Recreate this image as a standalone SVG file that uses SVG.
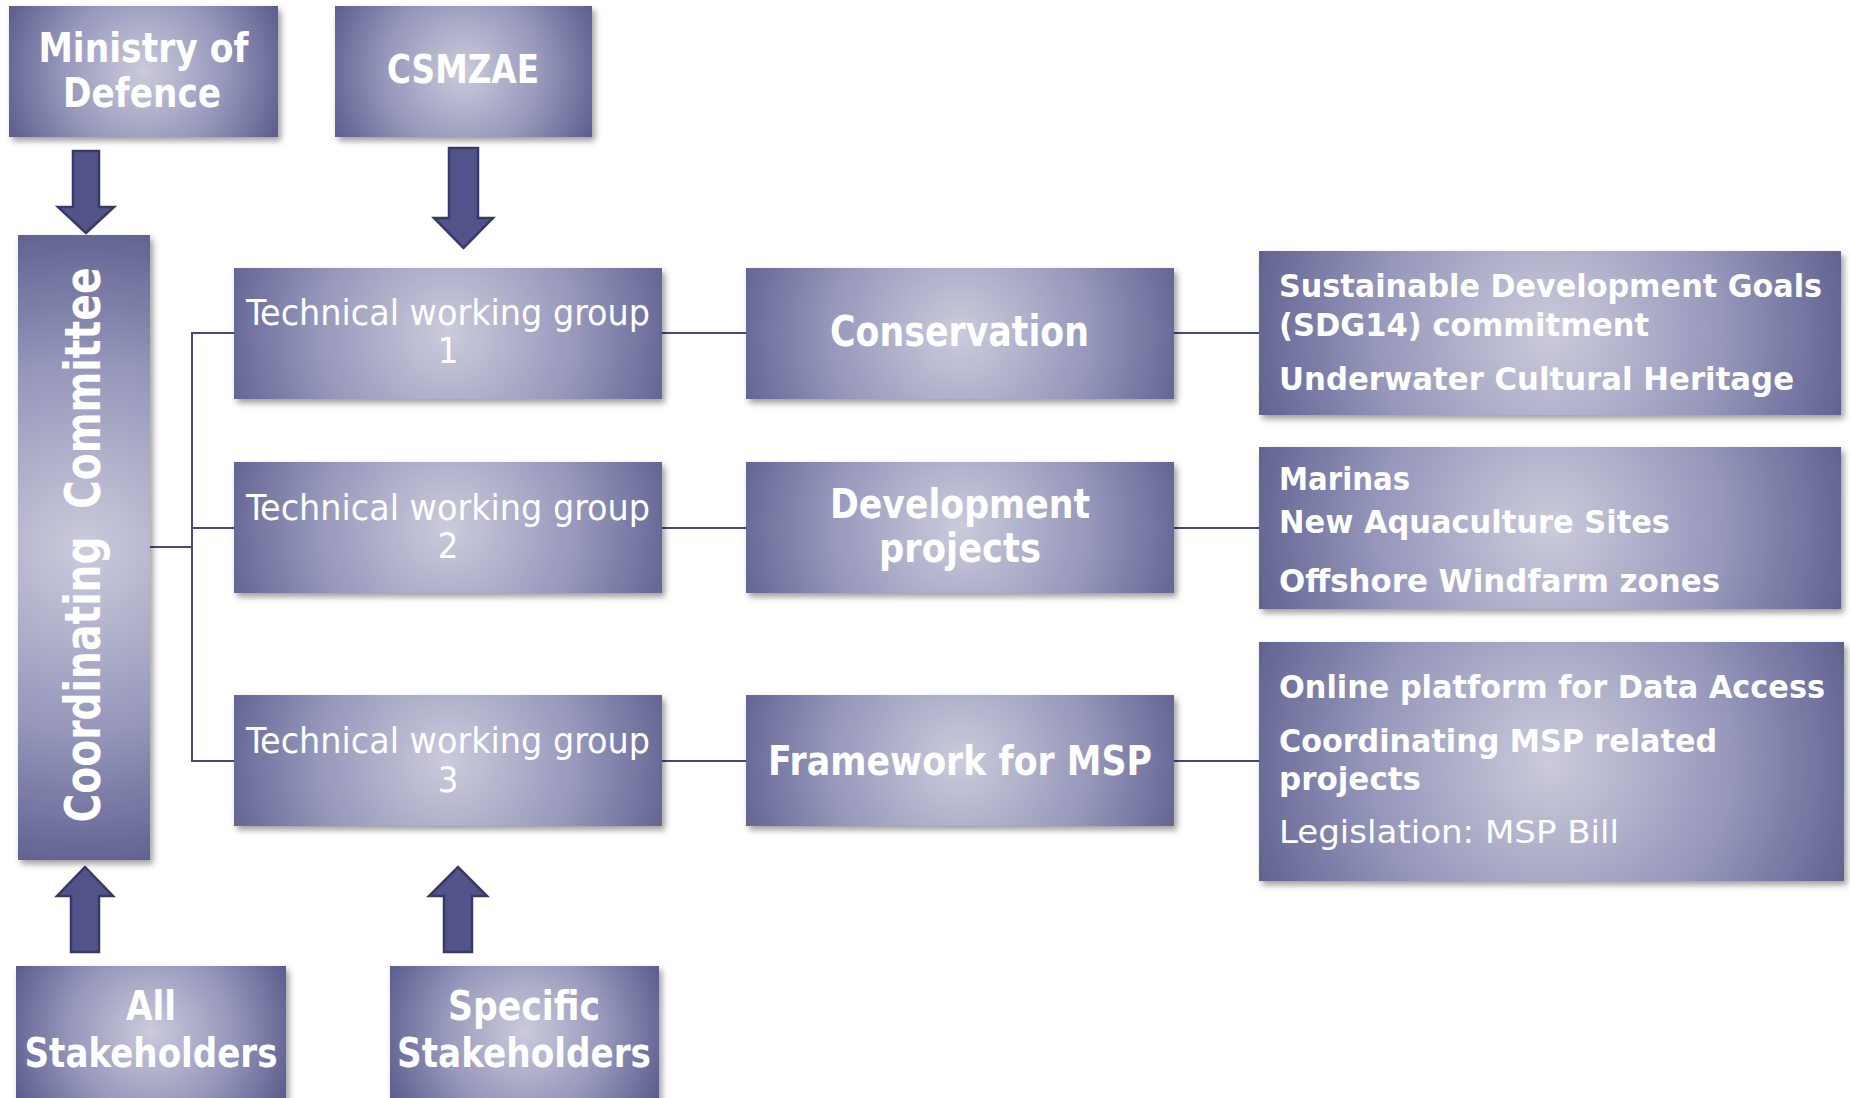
<svg xmlns="http://www.w3.org/2000/svg" xmlns:xlink="http://www.w3.org/1999/xlink" width="1850" height="1098" viewBox="0 0 1850 1098">
<style>
  .box { filter: url(#shadow); }
  .t { fill: #ffffff; font-family: 'DejaVu Sans', 'Liberation Sans', sans-serif; font-weight: bold; }
  .tn { fill: #ffffff; font-family: 'DejaVu Sans Condensed', 'DejaVu Sans', sans-serif; font-weight: normal; }
  .c { text-anchor: middle; }
  .line { stroke: #48497c; stroke-width: 2; fill: none; }
  .arrow { fill: #525388; stroke: #393a63; stroke-width: 2.5; stroke-linejoin: miter; }
</style>
<defs>
  <filter id="shadow" x="-10%" y="-10%" width="125%" height="130%">
    <feDropShadow dx="3" dy="4" stdDeviation="3" flood-color="#000000" flood-opacity="0.38"/>
  </filter>
  <radialGradient id="g">
    <stop offset="0" stop-color="#cbcbdc"/>
    <stop offset="0.5" stop-color="#9596ba"/>
    <stop offset="1" stop-color="#4e4f83"/>
  </radialGradient>
  <radialGradient id="g-min" xlink:href="#g" gradientUnits="userSpaceOnUse" cx="143.5" cy="71.5" r="165"/>
  <radialGradient id="g-csm" xlink:href="#g" gradientUnits="userSpaceOnUse" cx="463.5" cy="71.5" r="160"/>
  <radialGradient id="g-coord" xlink:href="#g" gradientUnits="userSpaceOnUse" cx="84" cy="547.5" r="370"/>
  <radialGradient id="g-twg1" xlink:href="#g" gradientUnits="userSpaceOnUse" cx="448" cy="333.5" r="265"/>
  <radialGradient id="g-twg2" xlink:href="#g" gradientUnits="userSpaceOnUse" cx="448" cy="527.5" r="265"/>
  <radialGradient id="g-twg3" xlink:href="#g" gradientUnits="userSpaceOnUse" cx="448" cy="760.5" r="265"/>
  <radialGradient id="g-cons" xlink:href="#g" gradientUnits="userSpaceOnUse" cx="960" cy="333.5" r="265"/>
  <radialGradient id="g-dev" xlink:href="#g" gradientUnits="userSpaceOnUse" cx="960" cy="527.5" r="265"/>
  <radialGradient id="g-frm" xlink:href="#g" gradientUnits="userSpaceOnUse" cx="960" cy="760.5" r="265"/>
  <radialGradient id="g-r1" xlink:href="#g" gradientUnits="userSpaceOnUse" cx="1550" cy="333" r="350"/>
  <radialGradient id="g-r2" xlink:href="#g" gradientUnits="userSpaceOnUse" cx="1550" cy="528" r="350"/>
  <radialGradient id="g-r3" xlink:href="#g" gradientUnits="userSpaceOnUse" cx="1551" cy="761" r="365"/>
  <radialGradient id="g-all" xlink:href="#g" gradientUnits="userSpaceOnUse" cx="151" cy="1032" r="165"/>
  <radialGradient id="g-spec" xlink:href="#g" gradientUnits="userSpaceOnUse" cx="524.5" cy="1032" r="165"/>
</defs>
<rect x="0" y="0" width="1850" height="1098" fill="#ffffff"/>

<g id="connectors">
  <polyline class="line" points="150,547 192,547"/>
  <polyline class="line" points="234,333 192,333 192,761 234,761"/>
  <polyline class="line" points="192,528 234,528"/>
  <polyline class="line" points="662,333 746,333"/>
  <polyline class="line" points="662,528 746,528"/>
  <polyline class="line" points="662,761 746,761"/>
  <polyline class="line" points="1174,333 1259,333"/>
  <polyline class="line" points="1174,528 1259,528"/>
  <polyline class="line" points="1174,761 1259,761"/>
  <polygon class="arrow" points="73,151 99,151 99,207 114,207 86,233 58,207 73,207"/>
  <polygon class="arrow" points="449,148 478,148 478,218 493,218 463.5,248 434,218 449,218"/>
  <polygon class="arrow" points="71,952 99,952 99,896 113,896 85,867 57,896 71,896"/>
  <polygon class="arrow" points="444,952 472,952 472,896 487,896 458,867 429,896 444,896"/>
</g>

<g id="ministry">
  <rect class="box" x="9" y="6" width="269" height="131" fill="url(#g-min)"/>
  <text class="t c" x="143.5" y="62" font-size="40" textLength="210" lengthAdjust="spacingAndGlyphs">Ministry of</text>
  <text class="t c" x="142" y="107" font-size="40" textLength="158" lengthAdjust="spacingAndGlyphs">Defence</text>
</g>
<g id="csmzae">
  <rect class="box" x="335" y="6" width="257" height="131" fill="url(#g-csm)"/>
  <text class="t c" x="463" y="83" font-size="39" textLength="152" lengthAdjust="spacingAndGlyphs">CSMZAE</text>
</g>
<g id="coordinating">
  <rect class="box" x="18" y="235" width="132" height="625" fill="url(#g-coord)"/>
  <text class="t c" transform="translate(100,545) rotate(-90)" x="0" y="0" font-size="50" textLength="555" lengthAdjust="spacingAndGlyphs" xml:space="preserve">Coordinating  Committee</text>
</g>
<g id="twg1">
  <rect class="box" x="234" y="268" width="428" height="131" fill="url(#g-twg1)"/>
  <text class="tn c" x="448" y="325" font-size="36" textLength="404" lengthAdjust="spacingAndGlyphs">Technical working group</text>
  <text class="tn c" x="448" y="363" font-size="36">1</text>
</g>
<g id="twg2">
  <rect class="box" x="234" y="462" width="428" height="131" fill="url(#g-twg2)"/>
  <text class="tn c" x="448" y="520" font-size="36" textLength="404" lengthAdjust="spacingAndGlyphs">Technical working group</text>
  <text class="tn c" x="448" y="558" font-size="36">2</text>
</g>
<g id="twg3">
  <rect class="box" x="234" y="695" width="428" height="131" fill="url(#g-twg3)"/>
  <text class="tn c" x="448" y="753" font-size="36" textLength="404" lengthAdjust="spacingAndGlyphs">Technical working group</text>
  <text class="tn c" x="448" y="792" font-size="36">3</text>
</g>
<g id="conservation">
  <rect class="box" x="746" y="268" width="428" height="131" fill="url(#g-cons)"/>
  <text class="t c" x="959.5" y="346" font-size="42" textLength="259" lengthAdjust="spacingAndGlyphs">Conservation</text>
</g>
<g id="development">
  <rect class="box" x="746" y="462" width="428" height="131" fill="url(#g-dev)"/>
  <text class="t c" x="960" y="518" font-size="41" textLength="260" lengthAdjust="spacingAndGlyphs">Development</text>
  <text class="t c" x="960" y="562" font-size="41" textLength="162" lengthAdjust="spacingAndGlyphs">projects</text>
</g>
<g id="framework">
  <rect class="box" x="746" y="695" width="428" height="131" fill="url(#g-frm)"/>
  <text class="t c" x="960" y="775" font-size="41" textLength="384" lengthAdjust="spacingAndGlyphs">Framework for MSP</text>
</g>
<g id="conservation-items">
  <rect class="box" x="1259" y="251" width="582" height="164" fill="url(#g-r1)"/>
  <text class="t" x="1279" y="297" font-size="32" textLength="543" lengthAdjust="spacingAndGlyphs">Sustainable Development Goals</text>
  <text class="t" x="1279" y="336" font-size="32" textLength="370" lengthAdjust="spacingAndGlyphs">(SDG14) commitment</text>
  <text class="t" x="1279" y="390" font-size="32" textLength="515" lengthAdjust="spacingAndGlyphs">Underwater Cultural Heritage</text>
</g>
<g id="development-items">
  <rect class="box" x="1259" y="447" width="582" height="162" fill="url(#g-r2)"/>
  <text class="t" x="1279" y="490" font-size="32" textLength="131" lengthAdjust="spacingAndGlyphs">Marinas</text>
  <text class="t" x="1279" y="533" font-size="32" textLength="391" lengthAdjust="spacingAndGlyphs">New Aquaculture Sites</text>
  <text class="t" x="1279" y="592" font-size="32" textLength="441" lengthAdjust="spacingAndGlyphs">Offshore Windfarm zones</text>
</g>
<g id="framework-items">
  <rect class="box" x="1259" y="642" width="585" height="239" fill="url(#g-r3)"/>
  <text class="t" x="1279" y="698" font-size="32" textLength="546" lengthAdjust="spacingAndGlyphs">Online platform for Data Access</text>
  <text class="t" x="1279" y="752" font-size="32" textLength="438" lengthAdjust="spacingAndGlyphs">Coordinating MSP related</text>
  <text class="t" x="1279" y="790" font-size="32" textLength="142" lengthAdjust="spacingAndGlyphs">projects</text>
  <text class="tn" x="1279" y="843" font-size="32" textLength="340" lengthAdjust="spacingAndGlyphs">Legislation: MSP Bill</text>
</g>
<g id="all-stakeholders">
  <rect class="box" x="16" y="966" width="270" height="145" fill="url(#g-all)"/>
  <text class="t c" x="151" y="1020" font-size="40" textLength="50" lengthAdjust="spacingAndGlyphs">All</text>
  <text class="t c" x="151" y="1067" font-size="40" textLength="253" lengthAdjust="spacingAndGlyphs">Stakeholders</text>
</g>
<g id="specific-stakeholders">
  <rect class="box" x="390" y="966" width="269" height="145" fill="url(#g-spec)"/>
  <text class="t c" x="524" y="1020" font-size="40" textLength="152" lengthAdjust="spacingAndGlyphs">Specific</text>
  <text class="t c" x="524" y="1067" font-size="40" textLength="254" lengthAdjust="spacingAndGlyphs">Stakeholders</text>
</g>
</svg>
